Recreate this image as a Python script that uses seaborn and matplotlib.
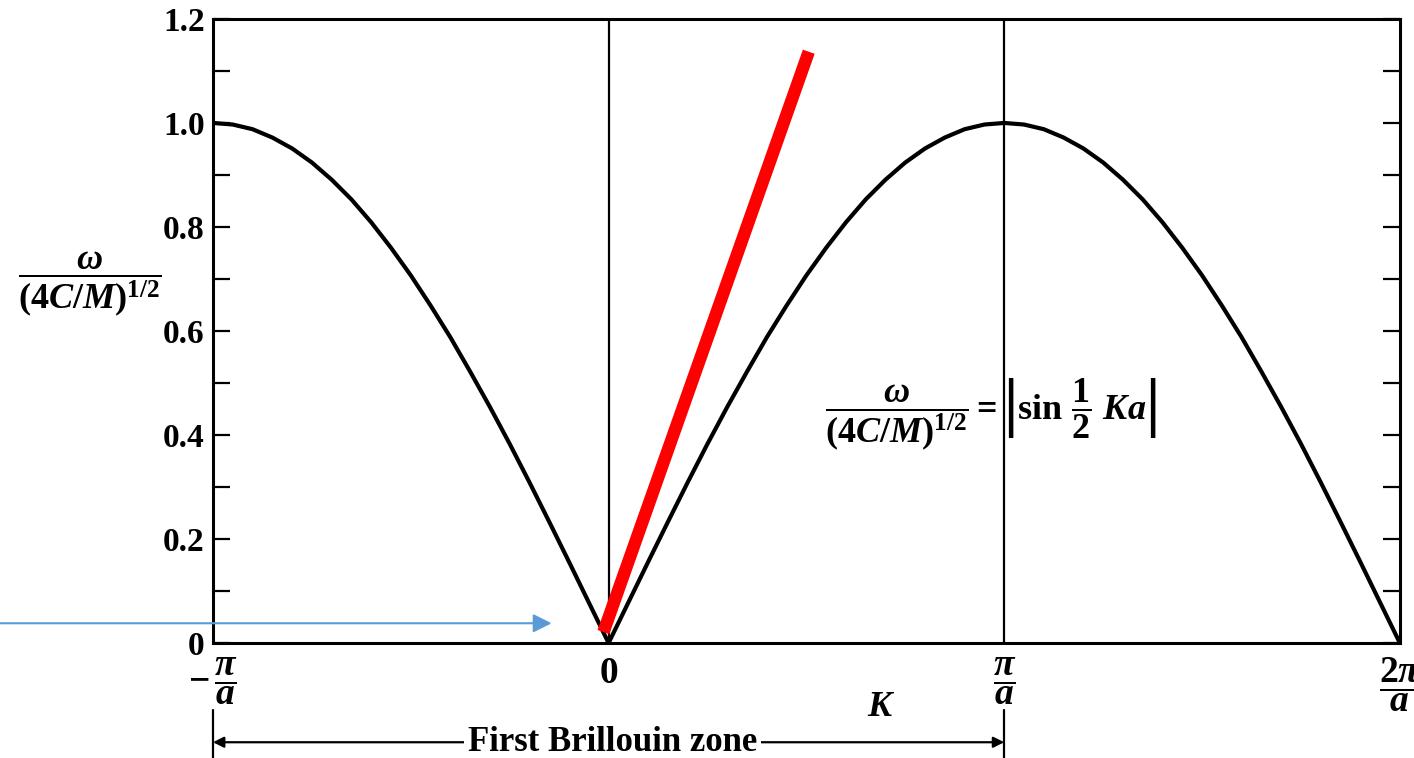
import numpy as np
import pandas as pd
import matplotlib
matplotlib.use('Agg')
import matplotlib.pyplot as plt
import seaborn as sns
from matplotlib.ticker import MultipleLocator

# wavevector K in units of pi/a, and omega / (4C/M)^1/2
k_vals = [-1.00, -0.95, -0.90, -0.85, -0.80, -0.75, -0.70, -0.65, -0.60, -0.55,
          -0.50, -0.45, -0.40, -0.35, -0.30, -0.25, -0.20, -0.15, -0.10, -0.05,
          0.00, 0.05, 0.10, 0.15, 0.20, 0.25, 0.30, 0.35, 0.40, 0.45,
          0.50, 0.55, 0.60, 0.65, 0.70, 0.75, 0.80, 0.85, 0.90, 0.95,
          1.00, 1.05, 1.10, 1.15, 1.20, 1.25, 1.30, 1.35, 1.40, 1.45,
          1.50, 1.55, 1.60, 1.65, 1.70, 1.75, 1.80, 1.85, 1.90, 1.95, 2.00]
omega_vals = [1.000, 0.997, 0.988, 0.972, 0.951, 0.924, 0.891, 0.853, 0.809, 0.760,
              0.707, 0.649, 0.588, 0.522, 0.454, 0.383, 0.309, 0.233, 0.156, 0.078,
              0.000, 0.078, 0.156, 0.233, 0.309, 0.383, 0.454, 0.522, 0.588, 0.649,
              0.707, 0.760, 0.809, 0.853, 0.891, 0.924, 0.951, 0.972, 0.988, 0.997,
              1.000, 0.997, 0.988, 0.972, 0.951, 0.924, 0.891, 0.853, 0.809, 0.760,
              0.707, 0.649, 0.588, 0.522, 0.454, 0.383, 0.309, 0.233, 0.156, 0.078, 0.000]

# red tangent line (sound-velocity slope) and blue pointer arrow
red_k = [-0.013, 0.506]
red_w = [0.021, 1.137]
arrow_start = (-1.54, 0.038)
arrow_tip = (-0.144, 0.038)

x_ticks = [-1, 0, 1, 2]
x_labels = [r'$-\,\dfrac{\pi}{a}$', r'$0$', r'$\dfrac{\pi}{a}$', r'$\dfrac{2\pi}{a}$']
y_ticks = [0, 0.2, 0.4, 0.6, 0.8, 1.0, 1.2]
y_labels = ['0', '0.2', '0.4', '0.6', '0.8', '1.0', '1.2']

sns.set_style('ticks')
plt.rcParams['font.family'] = ['Liberation Serif', 'DejaVu Serif']
plt.rcParams['font.weight'] = 'bold'
plt.rcParams['mathtext.fontset'] = 'custom'
plt.rcParams['mathtext.rm'] = 'Liberation Serif:bold'
plt.rcParams['mathtext.it'] = 'Liberation Serif:italic:bold'
plt.rcParams['mathtext.bf'] = 'Liberation Serif:bold'
for key in ['text.color', 'xtick.color', 'ytick.color', 'axes.labelcolor']:
    plt.rcParams[key] = 'black'

df = pd.DataFrame({'K': k_vals, 'omega': omega_vals})

fig = plt.figure(figsize=(14.14, 7.58), dpi=100)
ax = fig.add_axes([0.1506, 0.1517, 0.8394, 0.8233])

sns.lineplot(data=df, x='K', y='omega', ax=ax, color='black', linewidth=3)
ax.axvline(0, color='black', linewidth=1.6)
ax.axvline(1, color='black', linewidth=1.6)
ax.plot(red_k, red_w, color='#ff0000', linewidth=9, solid_capstyle='butt')

ax.set_xlim(-1, 2)
ax.set_ylim(0, 1.2)
ax.set_xticks(x_ticks)
ax.set_xticklabels(x_labels, fontsize=27)
ax.set_yticks(y_ticks)
ax.set_yticklabels(y_labels, fontsize=24)
ax.yaxis.set_minor_locator(MultipleLocator(0.1))
ax.tick_params(axis='x', length=0, pad=9)
ax.tick_params(axis='y', which='both', direction='in', right=True,
               length=12, width=1.6, pad=6)
for s in ax.spines.values():
    s.set_linewidth(2.2)
    s.set_color('black')
ax.set_xlabel('')
ax.set_ylabel('')

ax.text(-0.104, 0.574, r'$\dfrac{\omega}{(4C/M)^{1/2}}$', transform=ax.transAxes,
        ha='center', va='center', fontsize=26)
ax.text(0.967, 0.438, r'$\dfrac{\omega}{(4C/M)^{1/2}}=\left|\mathrm{sin}\ \dfrac{1}{2}\ Ka\right|$',
        ha='center', va='center', fontsize=26)
ax.text(0.689, -0.104, r'$K$', transform=ax.get_xaxis_transform(),
        ha='center', va='center', fontsize=26)

# Brillouin zone bracket under the axis
tr = ax.get_xaxis_transform()
for xb in [-1, 1]:
    ax.plot([xb, xb], [-0.108, -0.187], transform=tr, color='black',
            linewidth=1.6, clip_on=False)
ax.annotate('', xy=(-1, -0.159), xytext=(1, -0.159), xycoords=tr, textcoords=tr,
            arrowprops=dict(arrowstyle='<|-|>', color='black', lw=1.6,
                            shrinkA=0, shrinkB=0, mutation_scale=16))
ax.text(0.01, -0.159, 'First Brillouin zone', transform=tr, ha='center', va='center',
        fontsize=25, bbox=dict(facecolor='white', edgecolor='none', pad=3))

ax.annotate('', xy=arrow_tip, xytext=arrow_start, xycoords='data',
            arrowprops=dict(arrowstyle='-|>', color='#5b9bd5', lw=1.5,
                            shrinkA=0, shrinkB=0, mutation_scale=28),
            annotation_clip=False)

fig.savefig('out.png', dpi=100)
